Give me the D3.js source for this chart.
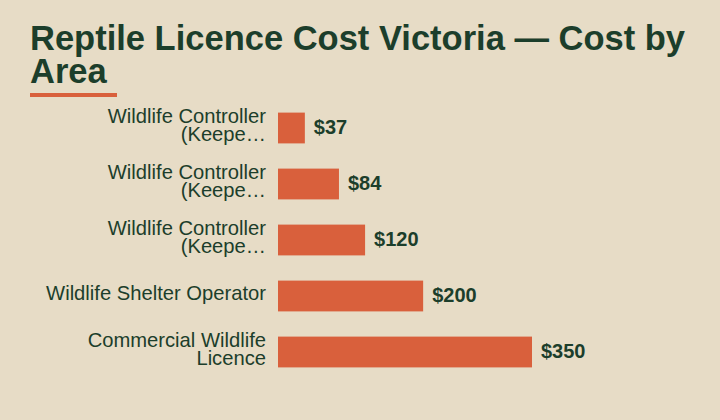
<!DOCTYPE html>
<html>
<head>
<meta charset="utf-8">
<script src="https://cdn.jsdelivr.net/npm/d3@7"></script>
<style>
  html, body { margin: 0; padding: 0; background: #e7dcc6; }
  svg { display: block; font-family: "Liberation Sans", Arial, sans-serif; }
</style>
</head>
<body>
<script>
// chart data
var titleText = "Reptile Licence Cost Victoria \u2014 Cost by Area";
var categories = [
  "Wildlife Controller (Keepe\u2026",
  "Wildlife Controller (Keepe\u2026",
  "Wildlife Controller (Keepe\u2026",
  "Wildlife Shelter Operator",
  "Commercial Wildlife Licence"
];
var costs = [37, 84, 120, 200, 350];

var width = 720, height = 420;
var ink = "#1c3e2b", accent = "#d9603c";

var svg = d3.select("body").append("svg")
  .attr("width", width)
  .attr("height", height);

svg.append("rect")
  .attr("width", width)
  .attr("height", height)
  .attr("fill", "#e7dcc6");

// split text into lines that fit maxWidth
function wrapLines(textEl, str, maxWidth){
  var words = str.split(" "), lines = [], line = "";
  words.forEach(function(w){
    var test = line ? line + " " + w : w;
    textEl.text(test);
    if (textEl.node().getComputedTextLength() > maxWidth && line){
      lines.push(line);
      line = w;
    } else {
      line = test;
    }
  });
  lines.push(line);
  textEl.text(null);
  return lines;
}

// title
var title = svg.append("text")
  .attr("x", 30)
  .attr("y", 50)
  .attr("fill", ink)
  .style("font-size", "34.5px")
  .style("font-weight", "bold");
var titleLines = wrapLines(title, titleText, 670);
title.selectAll("tspan")
  .data(titleLines)
  .enter()
  .append("tspan")
  .attr("x", 30)
  .attr("dy", function(d, i){ return i ? 33 : 0; })
  .text(function(d){ return d; });

svg.append("rect")
  .attr("x", 30)
  .attr("y", 93)
  .attr("width", 87)
  .attr("height", 4)
  .attr("fill", accent);

// scales
var x = d3.scaleLinear()
  .domain([0, d3.max(costs)])
  .range([278, 532]);

var y = d3.scaleBand()
  .domain(d3.range(categories.length))
  .range([100, 380])
  .paddingInner(0.45)
  .paddingOuter(0.225);

// bars
svg.selectAll(".bar")
  .data(costs)
  .enter()
  .append("rect")
  .attr("class", "bar")
  .attr("x", x(0))
  .attr("y", function(d, i){ return y(i); })
  .attr("width", function(d){ return x(d) - x(0); })
  .attr("height", y.bandwidth())
  .attr("fill", accent);

// category labels
svg.selectAll(".label")
  .data(categories)
  .enter()
  .append("text")
  .attr("class", "label")
  .attr("text-anchor", "end")
  .attr("fill", ink)
  .style("font-size", "20.2px")
  .each(function(d, i){
    var t = d3.select(this);
    var lines = wrapLines(t, d, 225);
    var cy = y(i) + y.bandwidth() / 2;
    lines.forEach(function(l, k){
      t.append("tspan")
        .attr("x", 266)
        .attr("y", cy + 4 - (lines.length - 1) * 9 + k * 18)
        .text(l);
    });
  });

// value labels
svg.selectAll(".value")
  .data(costs)
  .enter()
  .append("text")
  .attr("class", "value")
  .attr("x", function(d){ return x(d) + 9; })
  .attr("y", function(d, i){ return y(i) + y.bandwidth() / 2 + 6; })
  .attr("fill", ink)
  .style("font-size", "20px")
  .style("font-weight", "bold")
  .text(function(d){ return "$" + d; });
</script>
</body>
</html>
